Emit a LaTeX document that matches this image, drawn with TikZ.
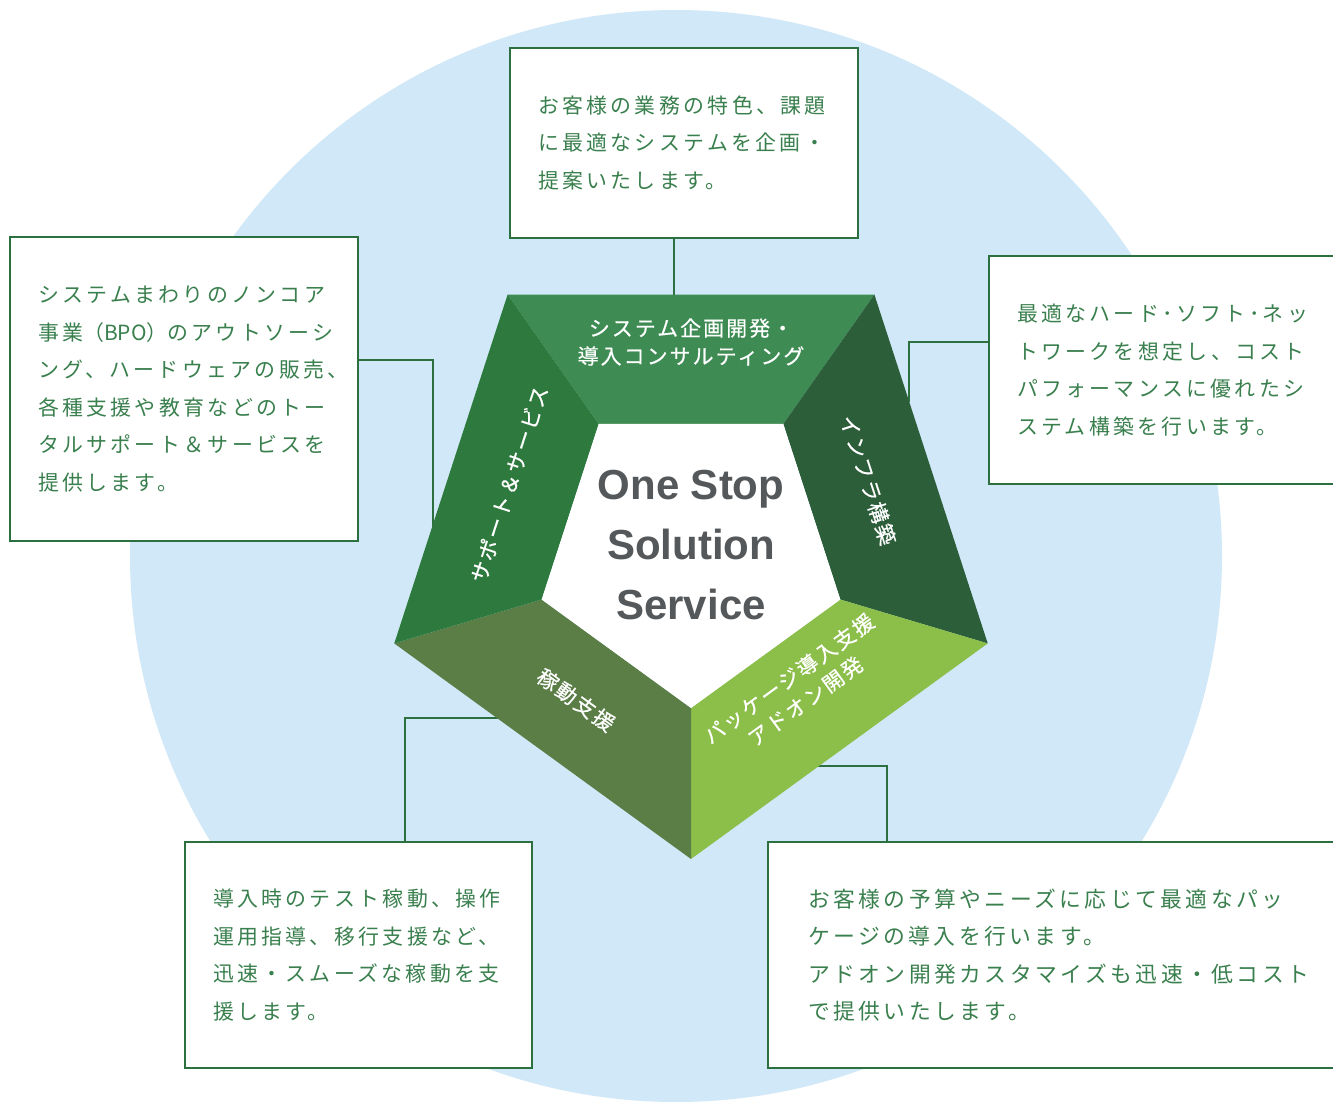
\documentclass[tikz,border=0pt]{standalone}
\usepackage{fontspec}
\setmainfont{Liberation Sans}
\newfontfamily\jpbox[LetterSpace=16]{Noto Sans CJK JP}
\newfontfamily\jpplain{Noto Sans CJK JP}
\newfontfamily\jpface[LetterSpace=10,FakeBold=0.6]{Noto Sans CJK JP}
\usetikzlibrary{calc}
\usepackage{xcolor}
\definecolor{skyblue}{RGB}{208,232,247}
\definecolor{boxgreen}{RGB}{44,112,64}
\definecolor{txtgreen}{RGB}{58,128,78}
\definecolor{facetop}{RGB}{62,140,84}
\definecolor{faceright}{RGB}{44,94,58}
\definecolor{facebr}{RGB}{140,190,74}
\definecolor{facebl}{RGB}{90,126,70}
\definecolor{faceleft}{RGB}{46,122,62}
\definecolor{slogan}{RGB}{85,88,90}
\newdimen\px \px=0.02cm
\tikzset{
  infobox/.style={draw=boxgreen, line width=2.5\px, fill=white, inner xsep=28\px, inner ysep=0pt,
    align=left, text=txtgreen, font=\jpbox\fontsize{11.9}{21.3}\selectfont},
  link/.style={draw=boxgreen, line width=2.5\px},
  facelabel/.style={text=white, align=center, inner sep=0pt, font=\jpface\fontsize{11.9}{15.9}\selectfont},
  slogantext/.style={align=center, inner sep=0pt, font=\bfseries\fontsize{23.9}{34.1}\selectfont},
}

\begin{document}
\begin{tikzpicture}[x=0.02cm, y=-0.02cm]
		\useasboundingbox (0,0) rectangle (1333,1102);
		\fill[white] (0,0) rectangle (1333,1102);
		% background disc
		\fill[skyblue] (676,556) circle (546);
		% text boxes
		\node[infobox, text width=292\px, minimum height=190\px] (topbox) at (684,143)
			{お客様の業務の特色、課題\\に最適なシステムを企画・\\提案いたします。};
		\node[infobox, text width=292\px, minimum height=304\px] (leftbox) at (184,389)
			{システムまわりのノンコア\\事業{\jpplain（BPO）}のアウトソーシ\\ング、ハードウェアの販売、\\各種支援や教育などのトー\\タルサポート＆サービスを\\提供します。};
		\node[infobox, text width=300\px, minimum height=228\px] (rightbox) at (1167,370)
			{最適なハード･ソフト･ネッ\\トワークを想定し、コスト\\パフォーマンスに優れたシ\\ステム構築を行います。};
		\node[infobox, text width=291\px, minimum height=226\px] (blbox) at (358.5,955)
			{導入時のテスト稼動、操作\\運用指導、移行支援など、\\迅速・スムーズな稼動を支\\援します。};
		\node[infobox, inner xsep=40\px, text width=497\px, minimum height=226\px,
			font=\jpbox\fontsize{12.4}{21.3}\selectfont] (brbox) at (1056.5,955)
			{お客様の予算やニーズに応じて最適なパッ\\ケージの導入を行います。\\アドオン開発カスタマイズも迅速・低コスト\\で提供いたします。};
		% connectors
		\coordinate (ptop) at (674,300);
		\coordinate (lturn) at (433,360);
		\coordinate (pleft) at (433,528);
		\coordinate (rturn) at (909,342);
		\coordinate (pright) at (909,402);
		\coordinate (blturn) at (405,718);
		\coordinate (pbl) at (507,718);
		\coordinate (brturn) at (887,766);
		\coordinate (pbr) at (808,766);
		\draw[link] (topbox.south -| ptop) -- (ptop);
		\draw[link] (leftbox.east |- lturn) -- (lturn) -- (pleft);
		\draw[link] (rightbox.west |- rturn) -- (rturn) -- (pright);
		\draw[link] (blbox.north -| blturn) -- (blturn) -- (pbl);
		\draw[link] (brbox.north -| brturn) -- (brturn) -- (pbr);
		% pentagon
		\coordinate (oc) at (691,547);
		\coordinate (ic) at (691,551);
		\foreach \n/\a in {1/-126,2/-54,3/18,4/90,5/162} {
			\coordinate (o\n) at ($(oc)+(\a:312)$);
			\coordinate (i\n) at ($(ic)+(\a:157)$);
		}
		\fill[facetop] (o1) -- (o2) -- (i2) -- (i1) -- cycle;
		\fill[faceright] (o2) -- (o3) -- (i3) -- (i2) -- cycle;
		\fill[facebr] (o3) -- (o4) -- (i4) -- (i3) -- cycle;
		\fill[facebl] (o4) -- (o5) -- (i5) -- (i4) -- cycle;
		\fill[faceleft] (o5) -- (o1) -- (i1) -- (i5) -- cycle;
		\fill[white] (i1) -- (i2) -- (i3) -- (i4) -- (i5) -- cycle;
		% face labels
		\node[facelabel] (lbtop) at (691,342) {システム企画開発・\\導入コンサルティング};
		\node[facelabel, rotate=-72] (lbright) at (868,480) {インフラ構築};
		\node[facelabel, rotate=36] (lbbr) at (797,690) {パッケージ導入支援\\アドオン開発};
		\node[facelabel, rotate=-36] (lbbl) at (576,700) {稼動支援};
		\node[facelabel, rotate=72] (lbleft) at (509,484) {サポート＆サービス};
		% slogan
		\node[slogantext, text=slogan] (slogan) at (691,545) {One Stop\\Solution\\Service};
	\end{tikzpicture}
\end{document}
